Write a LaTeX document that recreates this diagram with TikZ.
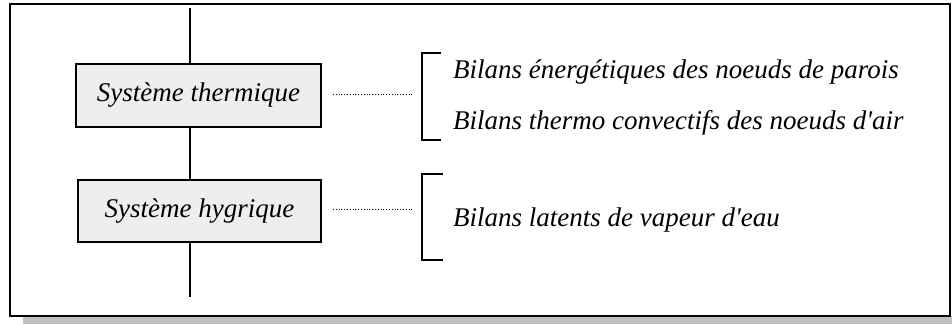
\documentclass[tikz,border=0pt]{standalone}
\usepackage{fontspec}
\setmainfont{Liberation Serif}
\usetikzlibrary{positioning}
\definecolor{BoxGray}{HTML}{EEEEEE}
\definecolor{ShadowGray}{HTML}{C0C0C0}
\tikzset{
  sysbox/.style={draw=black, line width=1.3pt, fill=BoxGray, minimum width=245pt, minimum height=63pt, inner sep=0pt, font=\fontsize{27}{31}\selectfont\itshape},
  bilan/.style={anchor=base west, inner sep=0pt, font=\fontsize{27}{31}\selectfont\itshape},
  link/.style={line width=1.2pt, draw=black},
  dotlink/.style={dotted, line width=0.8pt},
  bracket/.style={line width=1.2pt}
}

\begin{document}
\begin{tikzpicture}[x=1pt, y=-1pt]
\useasboundingbox (0,0) rectangle (952,324);
\fill[ShadowGray] (23,316) rectangle (952,324);
\draw[line width=1.2pt] (10,4) rectangle (950,316);
% systemes
\node[sysbox] (thermique) at (198.5,95.5) {Système thermique};
\node[sysbox, minimum width=243pt, minimum height=62pt] (hygrique) at (199.5,211) {Système hygrique};
\coordinate (top) at (190,8);
\coordinate (bottom) at (190,297);
\draw[link] (top) -- (thermique.north -| top);
\draw[link] (thermique.south -| top) -- (hygrique.north -| top);
\draw[link] (hygrique.south -| top) -- (bottom);
% crochets
\draw[bracket] (441,53) -| (422,140) -- (441,140);
\draw[bracket] (443,174) -| (422,260) -- (443,260);
\coordinate (thermEnd) at (412,94);
\coordinate (hygEnd) at (412,209);
\draw[dotlink] (333,94) -- (thermEnd);
\draw[dotlink] (333,209) -- (hygEnd);
% bilans
\node[bilan] (parois) at (453,78) {Bilans énergétiques des noeuds de parois};
\node[bilan] (air) at (453,129) {Bilans thermo convectifs des noeuds d\textquotesingle air};
\node[bilan] (vapeur) at (453,226) {Bilans latents de vapeur d\textquotesingle eau};
\end{tikzpicture}
\end{document}
